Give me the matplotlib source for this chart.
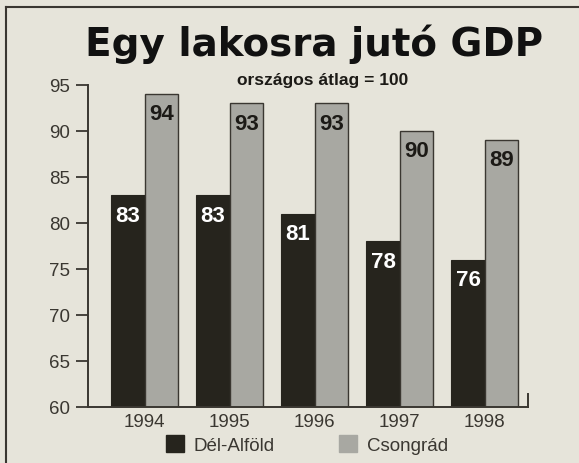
import numpy as np
import matplotlib.pyplot as plt
from matplotlib.patches import Patch

plt.rcParams['font.family'] = ['Liberation Sans', 'DejaVu Sans']

years = ['1994', '1995', '1996', '1997', '1998']
del_alfold = [83, 83, 81, 78, 76]
csongrad = [94, 93, 93, 90, 89]
yticks = [60, 65, 70, 75, 80, 85, 90, 95]

paper = '#e6e4da'
dark = '#26241d'
grey = '#a8a8a2'
ink = '#3a3731'

fig = plt.figure(figsize=(5.79, 4.64), dpi=100, facecolor=paper)
ax = fig.add_axes([0.152, 0.1207, 0.760, 0.694], facecolor=paper)

x = np.arange(len(years))
w = 0.393
b1 = ax.bar(x - w / 2, del_alfold, w, color=dark, edgecolor=dark, linewidth=0.8)
b2 = ax.bar(x + w / 2, csongrad, w, color=grey, edgecolor=ink, linewidth=1.0)

for r, v in zip(b1, del_alfold):
    ax.text(r.get_x() + r.get_width() / 2, v - 1.0, str(v), ha='center', va='top',
            color='white', fontsize=16, fontweight='bold')
for r, v in zip(b2, csongrad):
    ax.text(r.get_x() + r.get_width() / 2, v - 1.0, str(v), ha='center', va='top',
            color='#1c1a16', fontsize=16, fontweight='bold')

ax.set_ylim(60, 95)
ax.set_xlim(-0.667, 4.51)
ax.set_yticks(yticks)
ax.set_xticks(x)
ax.set_xticklabels(years)
ax.tick_params(axis='y', length=9, width=1.3, color=ink, labelsize=13.5, labelcolor=ink, pad=4)
ax.tick_params(axis='x', length=0, labelsize=13.5, labelcolor=ink, pad=4)

ax.spines['top'].set_visible(False)
for s in ['left', 'bottom', 'right']:
    ax.spines[s].set_color(ink)
    ax.spines[s].set_linewidth(1.4)
ax.spines['right'].set_bounds(60, 61.4)

fig.text(0.542, 0.905, 'Egy lakosra jutó GDP', ha='center', va='center',
         fontsize=28, fontweight='heavy', color='#111111', family='DejaVu Sans')
fig.text(0.558, 0.826, 'országos átlag = 100', ha='center', va='center',
         fontsize=12.5, fontweight='bold', color='#1c1a16')

handles = [Patch(facecolor=dark, edgecolor=dark), Patch(facecolor=grey, edgecolor=grey)]
fig.legend(handles, ['Dél-Alföld', 'Csongrád'], loc='center', bbox_to_anchor=(0.53, 0.04),
           ncol=2, frameon=False, fontsize=13.5, handlelength=1.0, handleheight=1.0,
           columnspacing=3.4, handletextpad=0.5, labelcolor=ink)

# border of the newspaper box
fig.add_artist(plt.Line2D([0.011, 0.011], [0.0, 0.982], color=ink, lw=1.5))
fig.add_artist(plt.Line2D([0.011, 1.0], [0.982, 0.982], color=ink, lw=1.5))

fig.savefig('out.png', dpi=100, facecolor=paper)
